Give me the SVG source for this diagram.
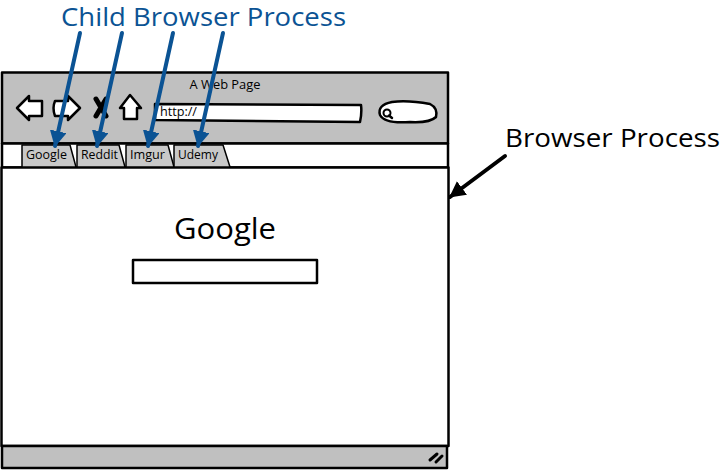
<svg xmlns="http://www.w3.org/2000/svg" width="722" height="471" viewBox="0 0 722 471">
<style>
text{font-family:"Open Sans","Liberation Sans",sans-serif;fill:#000}
.s{fill:none;stroke:#000;stroke-width:2.5;stroke-linejoin:round;stroke-linecap:round}
.g{fill:#c0c0c0;stroke:#000;stroke-width:2.500;stroke-linejoin:round}
.w{fill:#fff;stroke:#000;stroke-width:2.500;stroke-linejoin:round;stroke-linecap:round}
.t{fill:#c8c8c8;stroke:#000;stroke-width:1.500;stroke-linejoin:round}
.tt{font-size:12px}
.blue{stroke:#0b5394;stroke-width:4;fill:none;stroke-linecap:round}
</style>
<defs>
<marker id="bh" markerUnits="userSpaceOnUse" markerWidth="20" markerHeight="18" refX="15" refY="8.500" orient="auto"><path d="M0 0L16 8.500L0 17Z" fill="#0b5394"/></marker>
<marker id="kh" markerUnits="userSpaceOnUse" markerWidth="20" markerHeight="18" refX="15" refY="8.500" orient="auto"><path d="M0 0L16 8.500L0 17Z" fill="#000"/></marker>
</defs>
<g id="window">
<rect class="g" x="2" y="72.500" width="446" height="71"/>
<rect class="w" x="2" y="143.500" width="446" height="24"/>
<rect class="w" x="1.500" y="167.500" width="447" height="278.500"/>
<rect class="g" x="2" y="446" width="445" height="22"/>
<text x="225" y="88.500" font-size="12" text-anchor="middle" textLength="71" lengthAdjust="spacingAndGlyphs">A Web Page</text>
<path d="M430 460L437 454M436 462L442 456" class="s" style="stroke-width:3"/>
</g>
<g id="toolbar">
<path class="w" d="M17 108L29 96V101H42V116H29V120Z"/>
<path class="w" d="M55 101H68V96L80 108L68 120V116H55Q52 108 55 101Z"/>
<path d="M96 99L106 116M106 99L96 116" class="s" style="stroke-width:5"/>
<path class="w" d="M130 95L141 108H137V119H124V108H120Z"/>
<path class="w" d="M155 104L361 105Q362 113 360 122L155 120Z"/>
<text x="160" y="116" font-size="12" textLength="37" lengthAdjust="spacingAndGlyphs">http://</text>
<path class="w" d="M392 102Q408 100 430 104Q438 108 436 117Q430 123 410 122Q385 124 380 115Q377 105 392 102Z"/>
<circle cx="387" cy="113" r="3.500" fill="none" stroke="#000" stroke-width="2"/>
<path d="M389 115.500L392 118" class="s"/>
</g>
<g id="tab-google"><path class="t" d="M22 167V145H70L76 167Z"/><text class="tt" x="26" y="158.500" textLength="41" lengthAdjust="spacingAndGlyphs">Google</text></g>
<g id="tab-reddit"><path class="t" d="M77 167V145H119L125 167Z"/><text class="tt" x="81" y="158.500" textLength="37" lengthAdjust="spacingAndGlyphs">Reddit</text></g>
<g id="tab-imgur"><path class="t" d="M126 167V145H168L174 167Z"/><text class="tt" x="130" y="158.500" textLength="35" lengthAdjust="spacingAndGlyphs">Imgur</text></g>
<g id="tab-udemy"><path class="t" d="M174 167V145H223L230 167Z"/><text class="tt" x="178" y="158.500" textLength="40" lengthAdjust="spacingAndGlyphs">Udemy</text></g>
<g id="page">
<text x="225" y="239" font-size="29" text-anchor="middle" textLength="102" lengthAdjust="spacingAndGlyphs">Google</text>
<rect class="w" x="133" y="260" width="184" height="23"/>
</g>
<g id="labels">
<text x="61" y="26" font-size="25" style="fill:#0b5394" textLength="285" lengthAdjust="spacingAndGlyphs">Child Browser Process</text>
<text x="505" y="147" font-size="25" textLength="215" lengthAdjust="spacingAndGlyphs">Browser Process</text>
</g>
<g id="connectors">
<path class="blue" marker-end="url(#bh)" d="M80 33L55 146"/>
<path class="blue" marker-end="url(#bh)" d="M122 33L97 146"/>
<path class="blue" marker-end="url(#bh)" d="M173 33L148 146"/>
<path class="blue" marker-end="url(#bh)" d="M223 33L198 146"/>
<path d="M505 156L450 197" stroke="#000" stroke-width="4" fill="none" stroke-linecap="round" marker-end="url(#kh)"/>
</g>
</svg>
